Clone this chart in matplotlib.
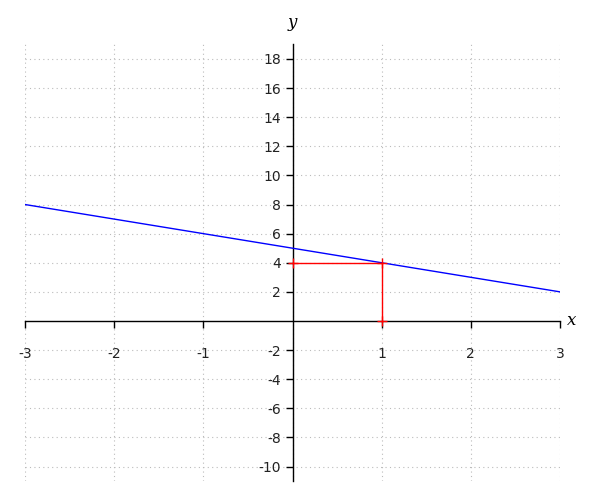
import matplotlib
matplotlib.use("Agg")
import matplotlib.pyplot as plt
import numpy as np

line_x = [-3, 3]
line_y = [8, 2]
red_x = [0, 1, 1]
red_y = [4, 4, 0]
xticks = [-3, -2, -1, 1, 2, 3]
yticks = [-10, -8, -6, -4, -2, 2, 4, 6, 8, 10, 12, 14, 16, 18]

fig = plt.figure(figsize=(6, 5), dpi=100)
ax = fig.add_axes([25/600, (500-481.1)/500, 535/600, 436.7/500])
ax.set_xlim(-3, 3)
ax.set_ylim(-11, 19)

# grid
for gx in [-3, -2, -1, 0, 1, 2, 3]:
    ax.axvline(gx, color='#bbbbbb', lw=0.8, ls=(0, (1, 3)), zorder=0)
for gy in yticks:
    ax.axhline(gy, color='#bbbbbb', lw=0.8, ls=(0, (1, 3)), zorder=0)

ax.plot(line_x, line_y, color='blue', lw=1, zorder=3)
ax.plot(red_x, red_y, color='red', lw=1, marker='+', ms=7, mew=1, zorder=4)

ax.spines['left'].set_position(('data', 0))
ax.spines['bottom'].set_position(('data', 0))
ax.spines['right'].set_visible(False)
ax.spines['top'].set_visible(False)
for s in ['left', 'bottom']:
    ax.spines[s].set_linewidth(1)
    ax.spines[s].set_color('black')

ax.set_xticks(xticks)
ax.set_xticklabels([str(v) for v in xticks])
ax.set_yticks(yticks)
ax.set_yticklabels([str(v) for v in yticks])
ax.tick_params(axis='both', direction='out', length=5, width=1, color='black',
               labelsize=10, labelcolor='#222222')
ax.tick_params(axis='x', pad=14)

ax.text(3.08, 0, 'x', fontsize=12, family='DejaVu Serif', style='italic', va='center', ha='left')
ax.text(0, 20.5, 'y', fontsize=12, family='DejaVu Serif', style='italic', va='center', ha='center')

for s in ax.spines.values():
    s.set_clip_on(False)
ax.patch.set_visible(False)
fig.savefig('out.png', dpi=100)
